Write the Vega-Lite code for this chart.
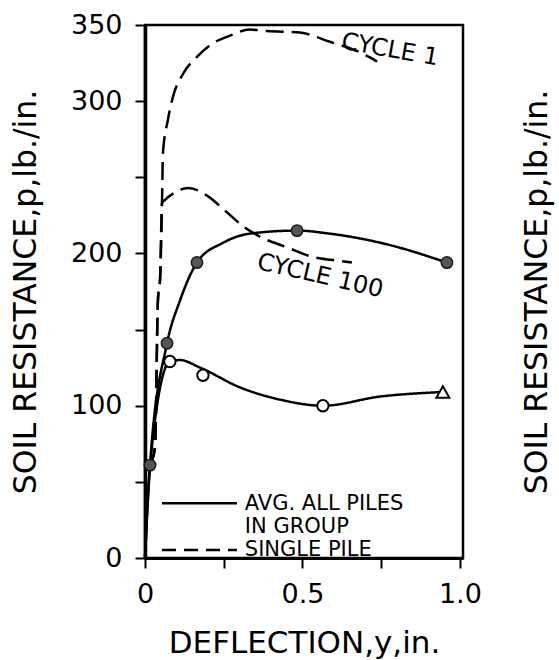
{
  "$schema": "https://vega.github.io/schema/vega-lite/v6.json",
  "width": 318,
  "height": 533,
  "autosize": {"type": "none"},
  "padding": {"left": 145, "top": 25, "right": 96, "bottom": 102},
  "background": "white",
  "config": {
    "view": {"stroke": "black", "strokeWidth": 2.5},
    "font": "DejaVu Sans",
    "axis": {
      "grid": false,
      "labelFont": "DejaVu Sans",
      "titleFont": "DejaVu Sans",
      "labelColor": "black",
      "titleColor": "black",
      "titleFontWeight": "normal",
      "domainColor": "black",
      "tickColor": "black"
    }
  },
  "datasets": {
    "curves": [
      {"series": "avg1", "style": "solid", "x": 0, "y": 0},
      {"series": "avg1", "style": "solid", "x": 0.016, "y": 61},
      {"series": "avg1", "style": "solid", "x": 0.07, "y": 141},
      {"series": "avg1", "style": "solid", "x": 0.111, "y": 169},
      {"series": "avg1", "style": "solid", "x": 0.165, "y": 194},
      {"series": "avg1", "style": "solid", "x": 0.248, "y": 207},
      {"series": "avg1", "style": "solid", "x": 0.333, "y": 213},
      {"series": "avg1", "style": "solid", "x": 0.483, "y": 215},
      {"series": "avg1", "style": "solid", "x": 0.587, "y": 213},
      {"series": "avg1", "style": "solid", "x": 0.768, "y": 206},
      {"series": "avg1", "style": "solid", "x": 0.959, "y": 194},
      {"series": "avg100", "style": "solid", "x": 0, "y": 0},
      {"series": "avg100", "style": "solid", "x": 0.016, "y": 61},
      {"series": "avg100", "style": "solid", "x": 0.079, "y": 129},
      {"series": "avg100", "style": "solid", "x": 0.111, "y": 130},
      {"series": "avg100", "style": "solid", "x": 0.175, "y": 125},
      {"series": "avg100", "style": "solid", "x": 0.302, "y": 112},
      {"series": "avg100", "style": "solid", "x": 0.429, "y": 104},
      {"series": "avg100", "style": "solid", "x": 0.565, "y": 100},
      {"series": "avg100", "style": "solid", "x": 0.746, "y": 106},
      {"series": "avg100", "style": "solid", "x": 0.946, "y": 109},
      {"series": "single1", "style": "dashed", "x": 0.016, "y": 61},
      {"series": "single1", "style": "dashed", "x": 0.032, "y": 73},
      {"series": "single1", "style": "dashed", "x": 0.041, "y": 169},
      {"series": "single1", "style": "dashed", "x": 0.048, "y": 184},
      {"series": "single1", "style": "dashed", "x": 0.054, "y": 233},
      {"series": "single1", "style": "dashed", "x": 0.057, "y": 266},
      {"series": "single1", "style": "dashed", "x": 0.073, "y": 288},
      {"series": "single1", "style": "dashed", "x": 0.089, "y": 303},
      {"series": "single1", "style": "dashed", "x": 0.121, "y": 318},
      {"series": "single1", "style": "dashed", "x": 0.165, "y": 329},
      {"series": "single1", "style": "dashed", "x": 0.216, "y": 338},
      {"series": "single1", "style": "dashed", "x": 0.27, "y": 343},
      {"series": "single1", "style": "dashed", "x": 0.333, "y": 347},
      {"series": "single1", "style": "dashed", "x": 0.387, "y": 346},
      {"series": "single1", "style": "dashed", "x": 0.492, "y": 345},
      {"series": "single1", "style": "dashed", "x": 0.587, "y": 339},
      {"series": "single1", "style": "dashed", "x": 0.683, "y": 332},
      {"series": "single1", "style": "dashed", "x": 0.737, "y": 326},
      {"series": "single100", "style": "dashed", "x": 0.016, "y": 61},
      {"series": "single100", "style": "dashed", "x": 0.032, "y": 73},
      {"series": "single100", "style": "dashed", "x": 0.041, "y": 169},
      {"series": "single100", "style": "dashed", "x": 0.048, "y": 184},
      {"series": "single100", "style": "dashed", "x": 0.054, "y": 233},
      {"series": "single100", "style": "dashed", "x": 0.063, "y": 235},
      {"series": "single100", "style": "dashed", "x": 0.095, "y": 240},
      {"series": "single100", "style": "dashed", "x": 0.137, "y": 243},
      {"series": "single100", "style": "dashed", "x": 0.197, "y": 238},
      {"series": "single100", "style": "dashed", "x": 0.26, "y": 227},
      {"series": "single100", "style": "dashed", "x": 0.317, "y": 217},
      {"series": "single100", "style": "dashed", "x": 0.365, "y": 211},
      {"series": "single100", "style": "dashed", "x": 0.451, "y": 204},
      {"series": "single100", "style": "dashed", "x": 0.527, "y": 198},
      {"series": "single100", "style": "dashed", "x": 0.619, "y": 195},
      {"series": "single100", "style": "dashed", "x": 0.657, "y": 194},
      {"series": "legsolid", "style": "solid", "x": 0.054, "y": 36},
      {"series": "legsolid", "style": "solid", "x": 0.292, "y": 36},
      {"series": "legdash", "style": "legdash", "x": 0.054, "y": 5.3},
      {"series": "legdash", "style": "legdash", "x": 0.292, "y": 5.3}
    ],
    "points": [
      {"kind": "filled", "x": 0.016, "y": 61},
      {"kind": "filled", "x": 0.07, "y": 141},
      {"kind": "filled", "x": 0.165, "y": 194},
      {"kind": "filled", "x": 0.483, "y": 215},
      {"kind": "filled", "x": 0.959, "y": 194},
      {"kind": "open", "x": 0.079, "y": 129},
      {"kind": "open", "x": 0.184, "y": 120},
      {"kind": "open", "x": 0.565, "y": 100},
      {"kind": "triangle", "x": 0.946, "y": 109}
    ],
    "labels": [
      {"t": "CYCLE 1", "x": 0.778, "y": 333.5, "a": 10},
      {"t": "CYCLE 100", "x": 0.556, "y": 185, "a": 13}
    ],
    "legend": [
      {"t": "AVG. ALL PILES", "x": 0.317, "y": 35.4},
      {"t": "IN GROUP", "x": 0.317, "y": 20.3},
      {"t": "SINGLE PILE", "x": 0.317, "y": 5.2}
    ]
  },
  "encoding": {
    "x": {
      "field": "x",
      "type": "quantitative",
      "scale": {"domain": [0, 1.01], "nice": false, "zero": false},
      "axis": {
        "values": [0, 0.25, 0.5, 0.75, 1.0],
        "labelExpr": "datum.value == 0 ? '0' : datum.value == 0.5 ? '0.5' : datum.value == 1 ? '1.0' : ''",
        "title": "DEFLECTION,y,in.",
        "titleFontSize": 31,
        "titlePadding": 21,
        "labelFontSize": 27,
        "labelPadding": 13,
        "tickSize": 10,
        "tickWidth": 2,
        "domainWidth": 3,
        "labelFlush": false,
        "labelOverlap": false
      }
    }
  },
  "resolve": {"axis": {"y": "independent"}},
  "layer": [
    {
      "data": {"name": "curves"},
      "mark": {"type": "line", "color": "black", "strokeWidth": 2.5, "interpolate": "monotone"},
      "encoding": {
        "y": {
          "field": "y",
          "type": "quantitative",
          "scale": {"domain": [0, 350], "nice": false},
          "axis": {
            "orient": "left",
            "values": [0, 50, 100, 150, 200, 250, 300, 350],
            "labelExpr": "datum.value == 50 || datum.value == 150 || datum.value == 250 ? '' : datum.label",
            "title": "SOIL RESISTANCE,p,lb./in.",
            "titleFontSize": 31.5,
            "titlePadding": 28,
            "labelFontSize": 27,
            "labelPadding": 13,
            "tickSize": 10,
            "tickWidth": 2,
            "domainWidth": 3.5,
            "labelFlush": false,
            "labelOverlap": false
          }
        },
        "detail": {"field": "series"},
        "strokeDash": {
          "field": "style",
          "type": "nominal",
          "scale": {"domain": ["solid", "dashed", "legdash"], "range": [[1, 0], [18, 8], [14, 8]]},
          "legend": null
        }
      }
    },
    {
      "data": {"name": "points"},
      "transform": [{"filter": "datum.kind == 'filled'"}],
      "mark": {"type": "point", "shape": "circle", "filled": true, "fill": "#555555", "stroke": "#1a1a1a", "strokeWidth": 1.5, "size": 130, "opacity": 1},
      "encoding": {
        "y": {"field": "y", "type": "quantitative", "scale": {"domain": [0, 350], "nice": false}, "axis": null}
      }
    },
    {
      "data": {"name": "points"},
      "transform": [{"filter": "datum.kind == 'open'"}],
      "mark": {"type": "point", "shape": "circle", "filled": true, "fill": "white", "stroke": "black", "strokeWidth": 2, "size": 130, "opacity": 1},
      "encoding": {
        "y": {"field": "y", "type": "quantitative", "scale": {"domain": [0, 350], "nice": false}, "axis": null}
      }
    },
    {
      "data": {"name": "points"},
      "transform": [{"filter": "datum.kind == 'triangle'"}],
      "mark": {"type": "point", "shape": "triangle-up", "filled": true, "fill": "white", "stroke": "black", "strokeWidth": 2, "size": 170, "opacity": 1},
      "encoding": {
        "y": {"field": "y", "type": "quantitative", "scale": {"domain": [0, 350], "nice": false}, "axis": null}
      }
    },
    {
      "data": {"name": "labels"},
      "mark": {"type": "text", "fontSize": 24, "font": "DejaVu Sans", "color": "black", "align": "center", "baseline": "middle"},
      "encoding": {
        "y": {"field": "y", "type": "quantitative", "scale": {"domain": [0, 350], "nice": false}, "axis": null},
        "text": {"field": "t"},
        "angle": {"field": "a", "type": "quantitative", "scale": null}
      }
    },
    {
      "data": {"name": "legend"},
      "mark": {"type": "text", "fontSize": 21, "font": "DejaVu Sans", "color": "black", "align": "left", "baseline": "middle"},
      "encoding": {
        "y": {
          "field": "y",
          "type": "quantitative",
          "scale": {"domain": [0, 350], "nice": false},
          "axis": {
            "orient": "right",
            "title": "SOIL RESISTANCE,p,lb./in.",
            "titleFontSize": 31.5,
            "titleAngle": 270,
            "titlePadding": 90,
            "labels": false,
            "ticks": false,
            "domain": false
          }
        },
        "text": {"field": "t"}
      }
    }
  ]
}
